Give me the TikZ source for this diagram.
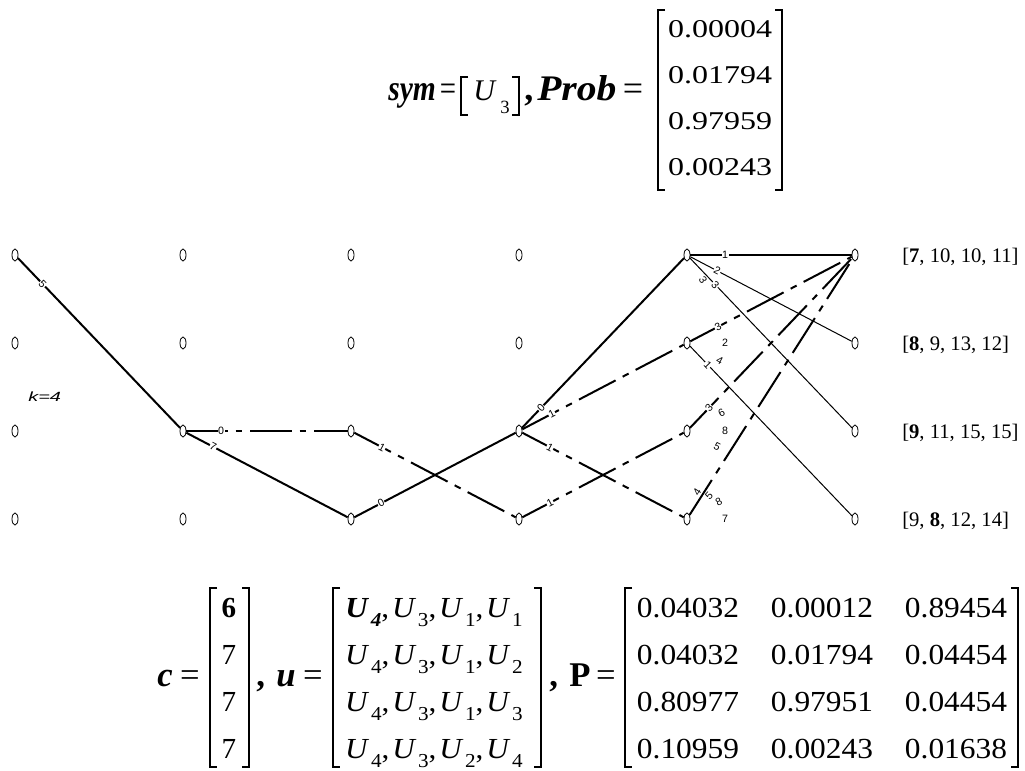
\documentclass[tikz,border=0pt]{standalone}
\usepackage{fontspec}
\setmainfont{Liberation Serif}
\setsansfont{Liberation Sans}
\usetikzlibrary{calc}
\usetikzlibrary{shapes.geometric}

\newcommand{\numtop}{\fontsize{19.2pt}{20pt}\selectfont}
\newcommand{\numbot}{\fontsize{21.8pt}{22pt}\selectfont}
\newcommand{\vartop}{\fontsize{27pt}{28pt}\selectfont}
\newcommand{\varbot}{\fontsize{26pt}{27pt}\selectfont}
\newcommand{\Uidx}[1]{\textit{U}\kern1.2pt\raisebox{-0.32em}{\scalebox{0.68}{#1}}}
\newcommand{\Ubold}[1]{\textbf{\textit{U}}\kern1.2pt\raisebox{-0.32em}{\scalebox{0.68}{\textbf{\textit{#1}}}}}
\newcommand{\lbrk}[3]{\draw[brk] (#1+7,#2) -| (#1,#3) -- ++(7,0);}
\newcommand{\rbrk}[3]{\draw[brk] (#1-7,#2) -| (#1,#3) -- ++(-7,0);}

\begin{document}
\begin{tikzpicture}[x=0.75pt, y=-0.75pt,
  state/.style={draw, ellipse, line width=0.6pt, minimum width=4.5pt, minimum height=9pt, inner sep=0pt},
  best/.style={line width=1.5pt},
  alt/.style={line width=1.5pt, dash pattern=on 31pt off 6pt on 5pt off 6pt},
  side/.style={line width=0.75pt},
  cost/.style={font=\sffamily\fontsize{8pt}{9pt}\selectfont, fill=white, inner sep=0.4pt, sloped},
  metric/.style={anchor=base west, font=\fontsize{15.5pt}{16pt}\selectfont, inner sep=0pt},
  tex/.style={anchor=base west, inner sep=0pt},
  mid/.style={anchor=base, inner sep=0pt},
  brk/.style={line width=1.1pt}]
  \useasboundingbox (0,0) rectangle (1025,771);
  \def\dx{168}
  \def\dy{88}

  % top line: sym and Prob
  \node[tex] (sym) at (388,100) {\vartop\scalebox{0.82}[1]{\textbf{\textit{sym}}}};
  \node[mid] (eqa) at (448,100) {\vartop\scalebox{0.8}[1]{=}};
  \lbrk{461}{77}{115}
  \node[tex] (usym) at (473,100) {\fontsize{22.5pt}{23pt}\selectfont\textit{U}};
  \node[tex] (usub) at (500,113) {\fontsize{14pt}{14pt}\selectfont 3};
  \rbrk{519}{77}{115}
  \node[tex] (ca) at (524,100) {\vartop\textbf{,}};
  \node[tex] (prob) at (537,100) {\vartop\scalebox{1.1}[1]{\textbf{\textit{Prob}}}};
  \node[mid] (eqb) at (633,100) {\vartop =};
  \lbrk{658}{10}{190}
  \rbrk{782}{10}{190}
  \foreach \v [count=\i from 0] in {0.00004, 0.01794, 0.97959, 0.00243}
    \node[mid, font=\numtop] (pr\i) at (720, 37+46.3*\i) {\scalebox{1.25}[1]{\v}};

  % trellis
  \foreach \c in {0,...,5}
    \foreach \r in {0,...,3}
      \node[state] (n\c\r) at ({15+\dx*\c}, {255+\dy*\r}) {};
  \foreach \a/\b in {00/12, 12/23, 23/32, 32/40, 40/50}
    \draw[best] (n\a) -- (n\b);
  \foreach \a/\b in {12/22, 22/33, 32/41, 32/43, 33/42, 41/50, 42/50, 43/50}
    \draw[alt] (n\a) -- (n\b);
  \foreach \a/\b in {40/51, 40/52, 41/53}
    \draw[side] (n\a) -- (n\b);
  \foreach \a/\b/\t/\d in {00/12/5/30pt, 12/22/0/28.5pt, 12/23/7/25.5pt, 22/33/1/26.25pt,
      23/32/0/25.5pt, 32/40/0/24pt, 32/41/1/27.75pt, 32/43/1/26.25pt, 33/42/1/26.25pt,
      40/50/1/28.5pt, 40/51/2/25.5pt, 40/52/3/30.75pt, 40/53/3/22.5pt,
      41/50/3/26.25pt, 41/51/2/28.5pt, 41/52/4/27.75pt, 41/53/1/22.5pt,
      42/50/3/24pt, 42/51/6/29.25pt, 42/52/8/28.5pt, 42/53/5/25.5pt,
      43/51/5/24pt, 43/52/8/27pt, 43/53/7/28.5pt}
    \path (n\a.center) -- ($(n\a.center)!\d!(n\b.center)$) node[cost, pos=1] {\t};
  \path (n43.center) -- ($(n43.center)!21pt!(n50.center)$) node[cost, pos=1, above=1pt] {4};
  \node[tex] (klbl) at (28,401) {\sffamily\itshape\fontsize{10pt}{10pt}\selectfont\scalebox{1.5}[1]{k=4}};
  \foreach \t [count=\i from 0] in {{[\textbf{7}, 10, 10, 11]}, {[\textbf{8}, 9, 13, 12]},
      {[\textbf{9}, 11, 15, 15]}, {[9, \textbf{8}, 12, 14]}}
    \node[metric] (m\i) at (902, 262+\dy*\i) {\t};

  % bottom line: c, u and P
  \node[tex] (cvar) at (157,686) {\varbot\textbf{\textit{c}}};
  \node[mid] (eqc) at (190,686) {\varbot =};
  \lbrk{210}{588}{767}
  \rbrk{249}{588}{767}
  \foreach \v [count=\i from 0] in {\textbf{6}, 7, 7, 7}
    \node[mid, font=\numbot] (c\i) at (229, 617+47*\i) {\v};
  \node[tex] (cb) at (256,686) {\varbot\textbf{,}};
  \node[tex] (uvar) at (276,686) {\varbot\textbf{\textit{u}}};
  \node[mid] (equ) at (313,686) {\varbot =};
  \lbrk{333}{588}{767}
  \rbrk{541}{588}{767}
  \foreach \p/\q/\r/\s [count=\i from 0] in {\Ubold{4}/\Uidx{3}/\Uidx{1}/\Uidx{1},
      \Uidx{4}/\Uidx{3}/\Uidx{1}/\Uidx{2}, \Uidx{4}/\Uidx{3}/\Uidx{1}/\Uidx{3},
      \Uidx{4}/\Uidx{3}/\Uidx{2}/\Uidx{4}}
    \node[mid, font=\numbot] (u\i) at (434, 617+47*\i)
      {\scalebox{1.07}[1]{\p,\kern2pt\q,\kern2pt\r,\kern2pt\s}};
  \node[tex] (cc) at (549,686) {\varbot\textbf{,}};
  \node[tex] (pvar) at (569,686) {\varbot\textbf{P}};
  \node[mid] (eqp) at (606,686) {\varbot =};
  \lbrk{625}{588}{767}
  \rbrk{1018}{588}{767}
  \foreach \a/\b/\c [count=\i from 0] in {0.04032/0.00012/0.89454, 0.04032/0.01794/0.04454,
      0.80977/0.97951/0.04454, 0.10959/0.00243/0.01638} {
    \node[mid, font=\numbot] (pa\i) at (688, 617+47*\i) {\scalebox{1.08}[1]{\a}};
    \node[mid, font=\numbot] (pb\i) at (822, 617+47*\i) {\scalebox{1.08}[1]{\b}};
    \node[mid, font=\numbot] (pc\i) at (956, 617+47*\i) {\scalebox{1.08}[1]{\c}};
  }
\end{tikzpicture}
\end{document}
